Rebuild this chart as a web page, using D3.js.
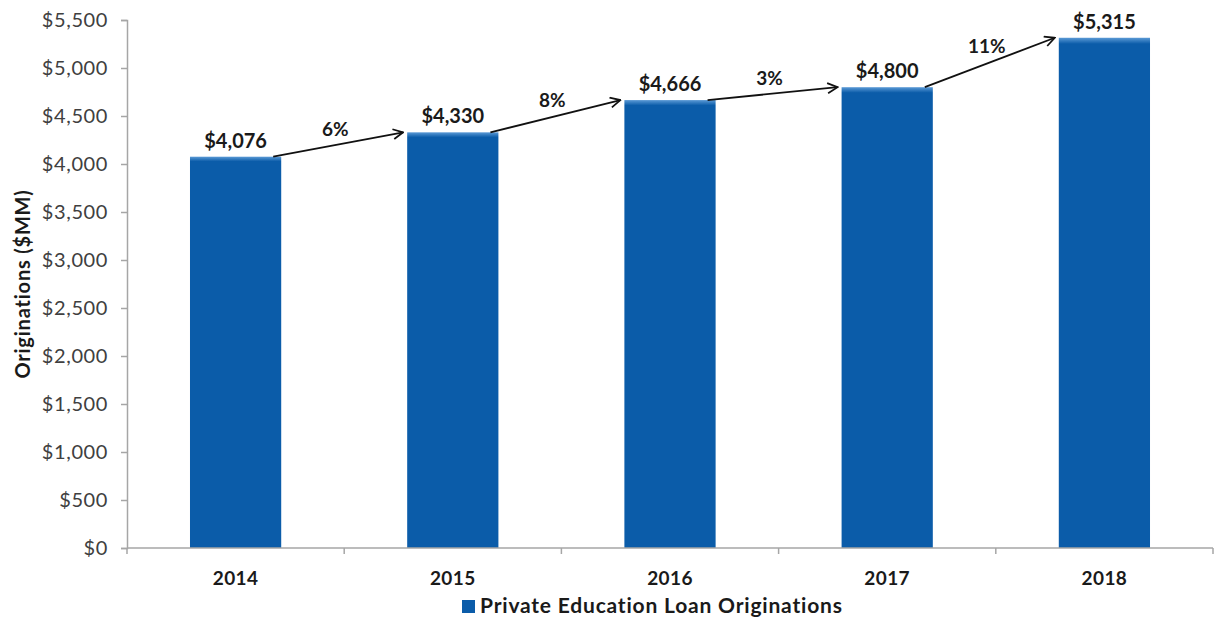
<!DOCTYPE html>
<html>
<head>
<meta charset="utf-8">
<script src="https://cdn.jsdelivr.net/npm/d3@7"></script>
<style>
  body { margin: 0; background: #fff; }
  text { font-family: Lato, "Open Sans", sans-serif; }
</style>
</head>
<body>
<svg id="chart" width="1218" height="623"></svg>
<script>
var years = ["2014", "2015", "2016", "2017", "2018"];
var originations = [4076, 4330, 4666, 4800, 5315];
var growth = ["6%", "8%", "3%", "11%"];
var yTicks = [0, 500, 1000, 1500, 2000, 2500, 3000, 3500, 4000, 4500, 5000, 5500];

var svg = d3.select("#chart");
var m = { left: 127, right: 5, top: 20, bottom: 75 };
var W = 1218, H = 623;

var x = d3.scaleBand().domain(years).range([m.left, W - m.right]).paddingInner(0.58).paddingOuter(0.29);
var y = d3.scaleLinear().domain([0, 5500]).range([H - m.bottom, m.top]);

var defs = svg.append("defs");
var grad = defs.append("linearGradient").attr("id", "barfill").attr("x1", 0).attr("y1", 0).attr("x2", 0).attr("y2", 1);
grad.append("stop").attr("offset", 0).attr("stop-color", "#5b9ad6");
grad.append("stop").attr("offset", 0.012).attr("stop-color", "#0b5ca9");
grad.append("stop").attr("offset", 1).attr("stop-color", "#0b5ca9");

var mk = defs.append("marker").attr("id", "arrow").attr("viewBox", "0 0 12 12")
  .attr("refX", 11).attr("refY", 6).attr("markerWidth", 12).attr("markerHeight", 12)
  .attr("markerUnits", "userSpaceOnUse").attr("orient", "auto");
mk.append("path").attr("d", "M1,1 L11,6 L1,11").attr("fill", "none").attr("stroke", "#111").attr("stroke-width", 1.8);

// y axis
var yAxis = svg.append("g").attr("transform", "translate(" + m.left + ",0)")
  .call(d3.axisLeft(y).tickValues(yTicks).tickSize(6).tickPadding(13)
    .tickFormat(function(d) { return "$" + d3.format(",")(d); }));
yAxis.select(".domain").attr("stroke", "#a6a6a6").attr("stroke-width", 1.5);
yAxis.selectAll(".tick line").attr("stroke", "#a6a6a6").attr("stroke-width", 1.5);
yAxis.selectAll(".tick text").attr("fill", "#404040").style("font-size", "20px").style("letter-spacing", "0.6px");

// bars
svg.selectAll("rect.bar").data(originations).enter().append("rect")
  .attr("class", "bar")
  .attr("x", function(d, i) { return x(years[i]); })
  .attr("y", function(d) { return y(d); })
  .attr("width", x.bandwidth())
  .attr("height", function(d) { return y(0) - y(d); })
  .attr("fill", "url(#barfill)");

// x axis
var step = x.step();
var xAxisG = svg.append("g").attr("transform", "translate(0," + y(0) + ")");
xAxisG.append("line").attr("x1", m.left).attr("x2", W - m.right).attr("stroke", "#a6a6a6").attr("stroke-width", 1.5);
xAxisG.selectAll("line.tk").data(d3.range(years.length + 1)).enter().append("line")
  .attr("class", "tk")
  .attr("x1", function(i) { return m.left + i * step; })
  .attr("x2", function(i) { return m.left + i * step; })
  .attr("y1", 0).attr("y2", 6).attr("stroke", "#a6a6a6").attr("stroke-width", 1.5);
xAxisG.selectAll("text").data(years).enter().append("text")
  .attr("x", function(d) { return x(d) + x.bandwidth() / 2; })
  .attr("y", 37).attr("text-anchor", "middle")
  .attr("fill", "#1a1a1a").style("font-size", "19px").style("font-weight", "bold").style("letter-spacing", "0.4px")
  .text(function(d) { return d; });

// value labels
svg.selectAll("text.val").data(originations).enter().append("text")
  .attr("class", "val")
  .attr("x", function(d, i) { return x(years[i]) + x.bandwidth() / 2; })
  .attr("y", function(d) { return y(d) - 9; })
  .attr("text-anchor", "middle").attr("fill", "#1a1a1a")
  .style("font-size", "20px").style("font-weight", "bold")
  .text(function(d) { return "$" + d3.format(",")(d); });

// growth arrows
var arrows = growth.map(function(g, i) {
  return {
    label: g,
    x1: x(years[i]) + x.bandwidth() - 8,
    y1: y(originations[i]),
    x2: x(years[i + 1]) - 4,
    y2: y(originations[i + 1])
  };
});
svg.selectAll("line.arr").data(arrows).enter().append("line")
  .attr("class", "arr")
  .attr("x1", function(d) { return d.x1; }).attr("y1", function(d) { return d.y1; })
  .attr("x2", function(d) { return d.x2; }).attr("y2", function(d) { return d.y2; })
  .attr("stroke", "#111").attr("stroke-width", 1.8).attr("marker-end", "url(#arrow)");
svg.selectAll("text.pct").data(arrows).enter().append("text")
  .attr("class", "pct")
  .attr("x", function(d) { return (d.x1 + d.x2) / 2 - 3; })
  .attr("y", function(d) { return (d.y1 + d.y2) / 2 - 9; })
  .attr("text-anchor", "middle").attr("fill", "#1a1a1a")
  .style("font-size", "19px").style("font-weight", "bold")
  .text(function(d) { return d.label; });

// y axis title
svg.append("text")
  .attr("transform", "translate(30," + ((y(0) + y(5500)) / 2) + ") rotate(-90)")
  .attr("text-anchor", "middle").attr("fill", "#1a1a1a")
  .style("font-size", "20px").style("font-weight", "bold").style("letter-spacing", "0.8px")
  .text("Originations ($MM)");

// legend
var lg = svg.append("g").attr("transform", "translate(462,600)");
lg.append("rect").attr("width", 13).attr("height", 13).attr("fill", "#0b5ca9");
lg.append("text").attr("x", 18).attr("y", 13).attr("fill", "#1a1a1a")
  .style("font-size", "21px").style("font-weight", "bold").style("letter-spacing", "0.8px")
  .text("Private Education Loan Originations");
</script>
</body>
</html>
